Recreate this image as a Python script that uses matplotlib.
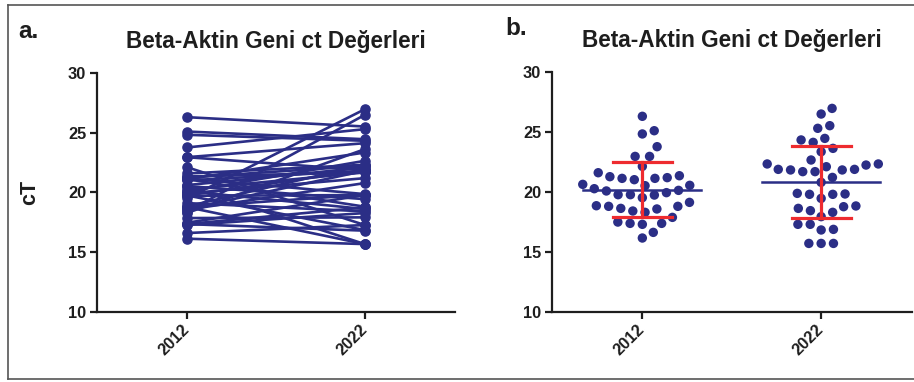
import numpy as np
import matplotlib
matplotlib.use('Agg')
import matplotlib.pyplot as plt
from matplotlib.lines import Line2D

# fonte parecida com Arial, tudo em negrito
plt.rcParams['font.family'] = ['Liberation Sans', 'DejaVu Sans']
plt.rcParams['font.weight'] = 'bold'

# 1. dados (valores ct, pareados amostra a amostra)
anos = ['2012', '2022']
ct_2012 = [26.28, 25.08, 24.81, 23.75, 22.94, 22.94, 22.11, 21.58, 21.33, 21.25,
           21.17, 21.11, 21.11, 21.00, 20.61, 20.53, 20.50, 20.25, 20.11, 20.06,
           19.92, 19.75, 19.75, 19.72, 19.50, 19.11, 18.83, 18.78, 18.78, 18.61,
           18.56, 18.39, 18.28, 17.86, 17.47, 17.36, 17.36, 17.28, 16.61, 16.14]
ct_2022 = [25.50, 24.44, 24.31, 25.28, 24.11, 21.86, 17.28, 22.31, 21.67, 22.22,
           19.86, 23.33, 18.81, 21.81, 22.08, 19.44, 15.69, 21.67, 18.61, 22.64,
           21.19, 16.86, 21.86, 19.78, 26.94, 18.42, 22.31, 19.81, 15.69, 21.81,
           20.78, 26.47, 23.61, 17.92, 19.78, 18.75, 16.81, 18.28, 17.28, 15.69]
y_ticks = [10, 15, 20, 25, 30]

titulo = 'Beta-Aktin Geni ct Değerleri'
azul = '#2B2E86'
vermelho = '#EE2B2F'
preto = '#1E1E1E'


def beeswarm(valores, px_x, px_y, dist):
    # coloca cada ponto o mais perto possivel do centro sem sobrepor
    valores = np.asarray(valores)
    ordem = np.argsort(valores)
    colocados = []
    desloc = np.zeros(len(valores))
    for i in ordem:
        y = valores[i] * px_y
        candidatos = [0.0]
        for xo, yo in colocados:
            dy = abs(y - yo)
            if dy < dist:
                dx = np.sqrt(dist ** 2 - dy ** 2)
                candidatos += [xo + dx, xo - dx]
        candidatos.sort(key=abs)
        for c in candidatos:
            if all((c - xo) ** 2 + (y - yo) ** 2 >= dist ** 2 - 1e-6 for xo, yo in colocados):
                break
        colocados.append((c, y))
        desloc[i] = c / px_x
    return desloc


def estilo(ax):
    ax.set_xlim(-0.507, 1.507)
    ax.set_ylim(10, 30)
    ax.set_yticks(y_ticks)
    ax.set_xticks([0, 1])
    ax.set_xticklabels(anos, rotation=45, ha='right', va='center', rotation_mode='anchor')
    for lado in ['top', 'right']:
        ax.spines[lado].set_visible(False)
    for lado in ['left', 'bottom']:
        ax.spines[lado].set_linewidth(1.6)
        ax.spines[lado].set_color(preto)
    ax.tick_params(width=1.6, length=5, color=preto, labelsize=11.8, labelcolor=preto, pad=2.5)
    ax.tick_params(axis='x', pad=6)
    ax.set_title(titulo, fontsize=16.3, fontweight='bold', pad=18, color=preto)


fig = plt.figure(figsize=(9.14, 3.82), dpi=100)
ax1 = fig.add_axes([0.1058, 0.1825, 0.392, 0.6275])
ax2 = fig.add_axes([0.6036, 0.184, 0.394, 0.6284])

# 2. painel a: linhas ligando 2012 e 2022
for v1, v2 in zip(ct_2012, ct_2022):
    ax1.plot([0, 1], [v1, v2], color=azul, lw=1.9, marker='o', ms=6.6, mec=azul, mfc=azul)
estilo(ax1)
ax1.set_ylabel('cT', fontsize=15.5, fontweight='bold', labelpad=20, color=preto)

# 3. painel b: pontos espalhados com media e desvio padrao
for k, valores in enumerate([ct_2012, ct_2022]):
    dx = beeswarm(valores, 178.7, 12.0, 12.3)
    ax2.scatter(k + dx, valores, s=46, color=azul, edgecolors='none', zorder=2)
    media = np.mean(valores)
    dp = np.std(valores, ddof=1)
    ax2.plot([k - 0.33, k + 0.33], [media, media], color=azul, lw=1.8, zorder=3)
    ax2.plot([k, k], [media - dp, media + dp], color=vermelho, lw=2.3, zorder=4)
    for y in [media - dp, media + dp]:
        ax2.plot([k - 0.165, k + 0.165], [y, y], color=vermelho, lw=2.3, zorder=4)
estilo(ax2)

# letras dos paineis
fig.text(0.0197, 0.9005, 'a.', fontsize=17.5, fontweight='bold', va='baseline', color=preto)
fig.text(0.5525, 0.9084, 'b.', fontsize=17.5, fontweight='bold', va='baseline', color=preto)

# moldura cinza em volta da figura
borda = dict(color='#555555', lw=1.2, transform=fig.transFigure)
fig.add_artist(Line2D([0.0088, 1.0], [0.987, 0.987], **borda))
fig.add_artist(Line2D([0.0088, 1.0], [0.008, 0.008], **borda))
fig.add_artist(Line2D([0.0088, 0.0088], [0.008, 0.987], **borda))

fig.savefig('out.png', dpi=100)
